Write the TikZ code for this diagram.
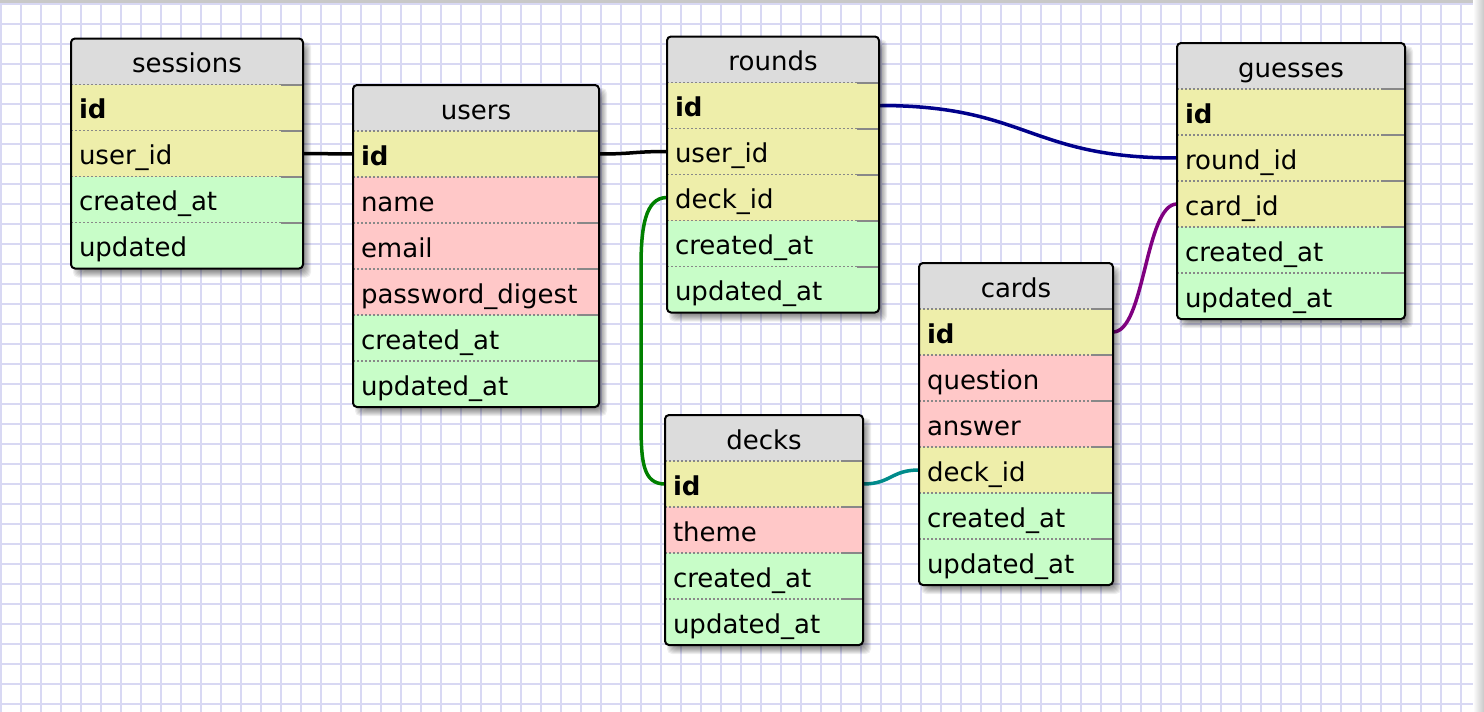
\documentclass[tikz,border=0pt]{standalone}
\usepackage{fontspec}
\setmainfont{DejaVu Sans}
\usetikzlibrary{calc}

% palette
\definecolor{headgray}{RGB}{220,220,220}
\definecolor{keyyellow}{RGB}{238,238,170}
\definecolor{datapink}{RGB}{255,200,200}
\definecolor{stampgreen}{RGB}{200,253,200}
\definecolor{sepgray}{RGB}{136,136,136}
\definecolor{gridlav}{RGB}{216,216,243}
\definecolor{framegray}{RGB}{200,200,200}
\definecolor{linknavy}{RGB}{0,0,139}
\definecolor{linkgreen}{RGB}{0,128,0}
\definecolor{linkteal}{RGB}{0,139,139}
\definecolor{linkpurple}{RGB}{128,0,128}

\pgfdeclarelayer{gridlayer}
\pgfdeclarelayer{linklayer}
\pgfsetlayers{gridlayer,linklayer,main}

\newcommand\erdfont{\fontsize{26}{30}\selectfont}

\tikzset{
  gridline/.style={draw=gridlav,line width=2pt},
  headbox/.style={fill=headgray,font=\erdfont,minimum height=46pt,
    inner xsep=8pt,inner ysep=0pt,text height=25pt,text depth=3pt,outer sep=0pt},
  rowbox/.style={minimum height=46pt,inner xsep=8pt,inner ysep=0pt,
    text height=25pt,text depth=3pt,align=left,outer sep=0pt},
  sepdot/.style={draw=sepgray,line width=1.5pt,dash pattern=on 2pt off 2pt},
  sepend/.style={draw=sepgray,line width=2pt},
  tableframe/.style={draw=black,line width=2pt,rounded corners=4pt},
  link/.style={line width=3.5pt},
}

% table: #1 name, #2 x, #3 y, #4 width, #5 number of rows, #6 title,
% #7 rows as key/label/fill/weight
\newcommand\erdtable[7]{%
  \pgfmathsetmacro\erdh{46*(#5+1)}%
  \pgfmathsetmacro\erdtw{#4-16}%
  \foreach \e in {0,...,7}{%
    \fill[black,opacity=0.065,rounded corners=5pt]
      (#2+9-\e,#3+10-\e) rectangle (#2+#4+1+\e,#3+\erdh+2+\e);}%
  \begin{scope}
    \clip[rounded corners=4pt] (#2,#3) rectangle ++(#4,\erdh);
    \node[headbox,minimum width=#4pt,anchor=north west] (#1) at (#2,#3) {#6};
    \foreach \key/\lab/\col/\wt [count=\i] in {#7}{%
      \node[rowbox,fill=\col,font=\erdfont\wt,text width=\erdtw pt,anchor=north west]
        (#1-\key) at (#2,#3+46*\i) {\lab};}%
    \foreach \i in {1,...,#5}{%
      \draw[sepdot] (#2,#3+46*\i) -- ++(#4,0);
      \draw[sepend] (#2+#4-22,#3+46*\i) -- ++(22,0);}%
  \end{scope}
  \draw[tableframe] (#2,#3) rectangle ++(#4,\erdh);
}

\begin{document}
\begin{tikzpicture}[x=1pt,y=-1pt]
\useasboundingbox (0,0) rectangle (1484,712);

% squared paper
\begin{pgfonlayer}{gridlayer}
  \fill[white] (0,0) rectangle (1484,712);
  \foreach \gx in {1,21,...,1481} \draw[gridline] (\gx,0) -- (\gx,712);
  \foreach \gy in {4,24,...,704} \draw[gridline] (0,\gy) -- (1484,\gy);
  \fill[framegray] (0,0) rectangle (1484,2.5);
  \shade[left color=white,right color=framegray] (1473,0) rectangle (1484,712);
\end{pgfonlayer}

\erdtable{sessions}{71}{38.5}{232}{4}{sessions}{%
  id/id/keyyellow/\bfseries,
  userid/user\_id/keyyellow/\mdseries,
  createdat/created\_at/stampgreen/\mdseries,
  updated/updated/stampgreen/\mdseries}

\erdtable{users}{353}{85}{246}{6}{users}{%
  id/id/keyyellow/\bfseries,
  name/name/datapink/\mdseries,
  email/email/datapink/\mdseries,
  passworddigest/password\_digest/datapink/\mdseries,
  createdat/created\_at/stampgreen/\mdseries,
  updatedat/updated\_at/stampgreen/\mdseries}

\erdtable{rounds}{667}{36.5}{212}{5}{rounds}{%
  id/id/keyyellow/\bfseries,
  userid/user\_id/keyyellow/\mdseries,
  deckid/deck\_id/keyyellow/\mdseries,
  createdat/created\_at/stampgreen/\mdseries,
  updatedat/updated\_at/stampgreen/\mdseries}

\erdtable{guesses}{1177}{43}{228}{5}{guesses}{%
  id/id/keyyellow/\bfseries,
  roundid/round\_id/keyyellow/\mdseries,
  cardid/card\_id/keyyellow/\mdseries,
  createdat/created\_at/stampgreen/\mdseries,
  updatedat/updated\_at/stampgreen/\mdseries}

\erdtable{cards}{919}{263}{194}{6}{cards}{%
  id/id/keyyellow/\bfseries,
  question/question/datapink/\mdseries,
  answer/answer/datapink/\mdseries,
  deckid/deck\_id/keyyellow/\mdseries,
  createdat/created\_at/stampgreen/\mdseries,
  updatedat/updated\_at/stampgreen/\mdseries}

\erdtable{decks}{665}{415}{198}{4}{decks}{%
  id/id/keyyellow/\bfseries,
  theme/theme/datapink/\mdseries,
  createdat/created\_at/stampgreen/\mdseries,
  updatedat/updated\_at/stampgreen/\mdseries}

% relations
\begin{pgfonlayer}{linklayer}
  \draw[link,black] (sessions-userid.east) -- (users-id.west);
  \draw[link,black] (users-id.east) .. controls +(34,0) and +(-34,0) .. (rounds-userid.west);
  \draw[link,linknavy] (rounds-id.east) .. controls +(149,0) and +(-149,0) .. (guesses-roundid.west);
  \coordinate (deckbendtop) at ($(rounds-deckid.west)+(-26,70)$);
  \coordinate (deckbendlow) at ($(decks-id.west)+(-24,-62)$);
  \draw[link,linkgreen] (rounds-deckid.west) .. controls +(-22,0) and +(0,-40) .. (deckbendtop)
    -- (deckbendlow) .. controls +(0,40) and +(-22,0) .. (decks-id.west);
  \draw[link,linkteal] (decks-id.east) .. controls +(28,0) and +(-28,0) .. (cards-deckid.west);
  \draw[link,linkpurple] (cards-id.east) .. controls +(32,0) and +(-32,0) .. (guesses-cardid.west);
\end{pgfonlayer}
\end{tikzpicture}
\end{document}
